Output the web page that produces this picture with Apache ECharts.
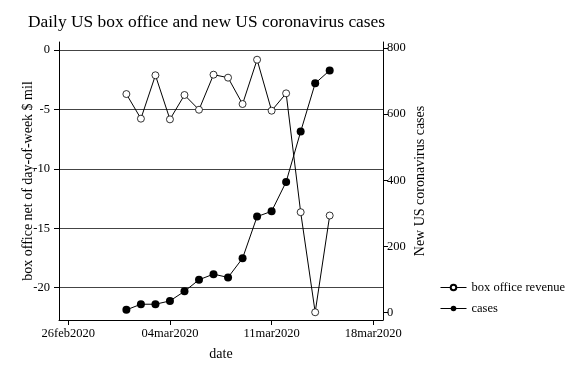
<!DOCTYPE html>
<html><head><meta charset="utf-8">
<script src="https://cdn.jsdelivr.net/npm/echarts@6/dist/echarts.min.js"></script>
<style>html,body{margin:0;padding:0;background:#fff}#c{width:576px;height:384px}</style>
</head><body><div id="c"></div>
<script>
const dates = ['2020-03-01','2020-03-02','2020-03-03','2020-03-04','2020-03-05','2020-03-06','2020-03-07','2020-03-08','2020-03-09','2020-03-10','2020-03-11','2020-03-12','2020-03-13','2020-03-14','2020-03-15'];
const boxOffice = [-3.71,-5.78,-2.13,-5.84,-3.79,-5.03,-2.08,-2.33,-4.55,-0.82,-5.11,-3.65,-13.65,-22.07,-13.93];
const cases = [8,25,25,35,64,99,116,106,164,290,306,395,547,693,732];
const xTickDates = ['2020-02-26','2020-03-04','2020-03-11','2020-03-18'];
const xTickLabels = ['26feb2020','04mar2020','11mar2020','18mar2020'];
const leftTicks = [0,-5,-10,-15,-20];
const rightTicks = [0,200,400,600,800];

const DAY = 86400000;
const origin = Date.parse('2020-02-26');
const dayOf = s => Math.round((Date.parse(s) - origin) / DAY);
const xTicks = xTickDates.map(dayOf);
const labelMap = {};
xTicks.forEach((v,i)=>{labelMap[v]=xTickLabels[i];});
const font = "'Liberation Serif','Times New Roman',serif";

const chart = echarts.init(document.getElementById('c'), null, {renderer:'canvas'});
chart.setOption({
  animation:false,
  backgroundColor:'#fff',
  title:{text:'Daily US box office and new US coronavirus cases',left:23,top:9,
    textStyle:{fontFamily:font,fontSize:17.4,fontWeight:'normal',color:'#000'}},
  grid:{left:59,right:193,top:42,bottom:64},
  legend:{orient:'vertical',left:440,top:281,padding:0,itemWidth:26,itemHeight:7,itemGap:8,
    lineStyle:{width:1},
    textStyle:{fontFamily:font,fontSize:12.5,color:'#000'},
    data:['box office revenue','cases']},
  xAxis:{type:'value',min:-0.64,max:21.67,
    name:'date',nameLocation:'middle',nameGap:27,nameMoveOverlap:false,
    nameTextStyle:{fontFamily:font,fontSize:14,color:'#000',verticalAlign:'top'},
    axisLine:{onZero:false,lineStyle:{color:'#000',width:1}},
    axisTick:{show:true,inside:false,length:5,customValues:xTicks,lineStyle:{color:'#000',width:1}},
    axisLabel:{customValues:xTicks,formatter:v=>labelMap[Math.round(v)]||'',fontFamily:font,fontSize:12.5,color:'#000',margin:7,hideOverlap:false,showMinLabel:true,showMaxLabel:true},
    splitLine:{show:false}},
  yAxis:[
    {type:'value',position:'left',min:-22.72,max:0.67,
      name:'box office net of day-of-week $ mil',nameLocation:'middle',nameGap:24,nameMoveOverlap:false,
      nameTextStyle:{fontFamily:font,fontSize:14,color:'#000'},
      axisLine:{show:true,onZero:false,lineStyle:{color:'#000'}},
      axisTick:{show:true,length:5,customValues:leftTicks,lineStyle:{color:'#000'}},
      axisLabel:{customValues:leftTicks,fontFamily:font,fontSize:12.5,color:'#000',margin:9},
      splitLine:{show:true,lineStyle:{color:'#444',width:1}}},
    {type:'value',position:'right',min:-22.7,max:818,
      name:'New US coronavirus cases',nameLocation:'middle',nameGap:30,nameMoveOverlap:false,
      nameTextStyle:{fontFamily:font,fontSize:14,color:'#000'},
      axisLine:{show:true,onZero:false,lineStyle:{color:'#000'}},
      axisTick:{show:true,length:5,customValues:rightTicks,lineStyle:{color:'#000'}},
      axisLabel:{customValues:rightTicks,fontFamily:font,fontSize:12.5,color:'#000',margin:4},
      splitLine:{show:false}}
  ],
  series:[
    {name:'box office revenue',type:'line',yAxisIndex:0,
      data:dates.map((d,i)=>[dayOf(d),boxOffice[i]]),
      symbol:'circle',symbolSize:7,
      lineStyle:{color:'#000',width:1},
      itemStyle:{color:'#fff',borderColor:'#000',borderWidth:0.8}},
    {name:'cases',type:'line',yAxisIndex:1,
      data:dates.map((d,i)=>[dayOf(d),cases[i]]),
      symbol:'circle',symbolSize:8,
      lineStyle:{color:'#000',width:1},
      itemStyle:{color:'#000'}}
  ]
});
</script></body></html>
